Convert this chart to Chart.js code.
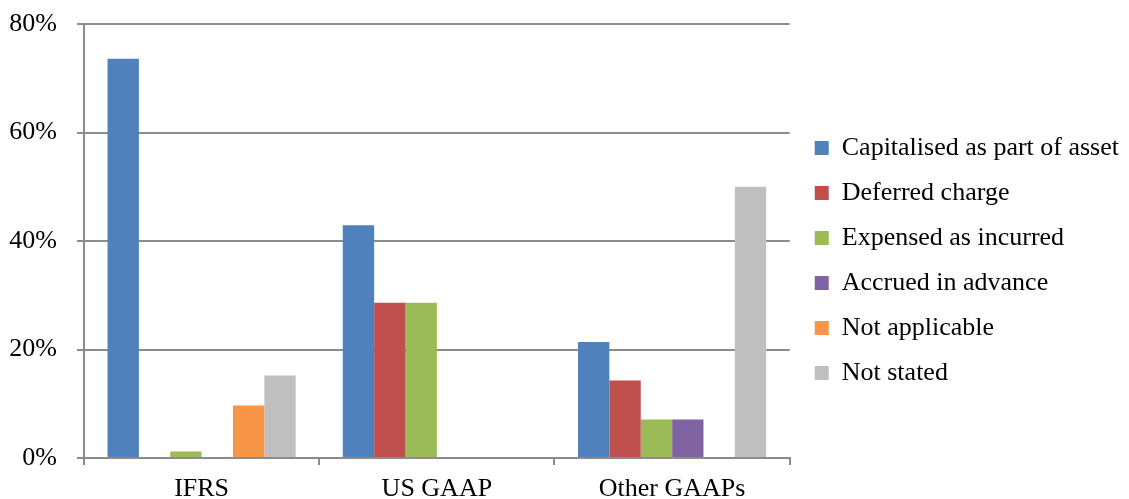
<!DOCTYPE html>
<html>
<head>
<meta charset="utf-8">
<script src="https://cdn.jsdelivr.net/npm/chart.js@4"></script>
<style>
  html, body { margin: 0; padding: 0; background: #fff; }
  #wrap { width: 1129px; height: 499px; position: relative; }
</style>
</head>
<body>
<div id="wrap"><canvas id="chart"></canvas></div>
<script>
// categories and series (values in %)
const categories = ["IFRS", "US GAAP", "Other GAAPs"];
const seriesNames = ["Capitalised as part of asset", "Deferred charge", "Expensed as incurred",
  "Accrued in advance", "Not applicable", "Not stated"];
const capitalised = [73.6, 42.9, 21.4];
const deferred = [0, 28.6, 14.3];
const expensed = [1.2, 28.6, 7.1];
const accrued = [0, 0, 7.1];
const notApplicable = [9.7, 0, 0];
const notStated = [15.2, 0, 50];
const yTicks = [0, 20, 40, 60, 80];

const colours = ["#4f81bd", "#c0504d", "#9bbb59", "#8064a2", "#f79646", "#bfbfbf"];
const values = [capitalised, deferred, expensed, accrued, notApplicable, notStated];

let datasets = [];
for (let i = 0; i < seriesNames.length; i++) {
  datasets.push({
    label: seriesNames[i],
    data: values[i],
    backgroundColor: colours[i],
    borderWidth: 0,
    categoryPercentage: 0.8,
    barPercentage: 1.0
  });
}

const font = { family: "'Liberation Serif', 'Times New Roman', serif", size: 26 };
const axisGrey = "#8c8c8c";

// nudge the legend a little, like the original layout
const legendShift = {
  id: "legendShift",
  afterLayout(chart) {
    chart.legend.left += 6;
    chart.legend.right += 6;
    chart.legend.top += 11;
    chart.legend.bottom += 11;
  }
};

new Chart(document.getElementById("chart"), {
  type: "bar",
  data: { labels: categories, datasets: datasets },
  plugins: [legendShift],
  options: {
    responsive: true,
    maintainAspectRatio: false,
    animation: false,
    layout: { padding: { top: 0, left: 0, right: 6, bottom: 0 } },
    plugins: {
      tooltip: { enabled: false },
      legend: {
        position: "right",
        maxWidth: 400,
        labels: {
          color: "#000",
          font: font,
          boxWidth: 14,
          boxHeight: 14,
          padding: 19
        }
      }
    },
    scales: {
      x: {
        afterFit: (axis) => { axis.height = 41; axis.paddingLeft = 0; axis.paddingRight = 0; },
        grid: {
          offset: true,
          drawOnChartArea: false,
          drawTicks: true,
          tickLength: 7,
          color: axisGrey,
          lineWidth: 2
        },
        border: { color: axisGrey, width: 2 },
        ticks: { color: "#000", font: font, padding: 9 }
      },
      y: {
        min: 0,
        max: 80,
        afterBuildTicks: (axis) => { axis.ticks = yTicks.map(v => ({ value: v })); },
        afterFit: (axis) => { axis.width = 84; axis.paddingTop = 24; axis.paddingBottom = 0; },
        grid: { color: axisGrey, lineWidth: 2, tickLength: 7 },
        border: { color: axisGrey, width: 2 },
        ticks: { color: "#000", font: font, padding: 20, callback: (v) => v + "%" }
      }
    }
  }
});
</script>
</body>
</html>
